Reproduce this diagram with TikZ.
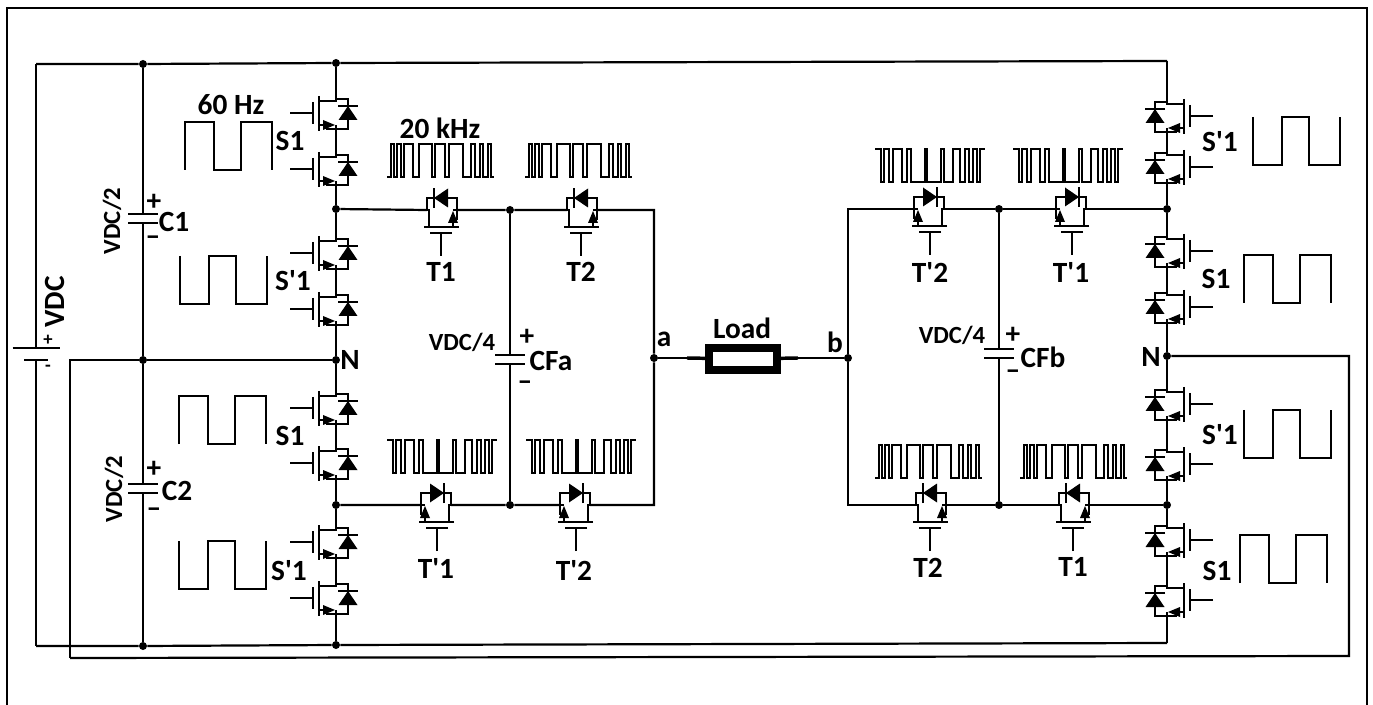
\documentclass[tikz,border=0pt]{standalone}
\usepackage{fontspec}
\setmainfont{Carlito}
\tikzset{
  flip/.style={yscale=-1},
  swR/.style={xscale=-1,yscale=-1},
  swT/.style={yscale=-1,rotate=-90},
  swM/.style={xscale=-1,yscale=-1,rotate=-90},
  wire/.style={line width=1.65pt},
  dot/.style={circle,fill=black,inner sep=0pt,minimum size=6pt},
  lab/.style={inner sep=0pt,font=\fontsize{22}{24}\selectfont\bfseries},
  smalllab/.style={inner sep=0pt,font=\fontsize{18.5}{20}\selectfont\bfseries},
  tinylab/.style={inner sep=0pt,font=\fontsize{14}{16}\selectfont\bfseries},
  pics/mosfet/.style={code={
    \coordinate (-d) at (0,-14);
    \coordinate (-s) at (0,16);
    \draw[wire] (-46,0) -- (-23,0);
    \draw[wire] (-23,-11) -- (-23,11);
    \draw[wire] (-17,-17) -- (-17,18);
    \draw[wire] (0,-14) -- (0,-12) -- (-17,-12);
    \draw[wire] (-17,12) -- (-12,12);
    \fill (-1,12) -- (-13,7) -- (-13,17) -- cycle;
    \draw[wire] (0,12) -- (0,16);
    \draw[wire] (-10,16) -- (12,16) -- (12,-14) -- (0,-14);
    \fill (12,-7) -- (21.5,7) -- (2.5,7) -- cycle;
    \draw[wire] (2,-7) -- (22,-7);
  }},
  pics/capacitor/.style={code={
    \coordinate (-p) at (0,-4.5);
    \coordinate (-n) at (0,4.5);
    \draw[wire] (-15,-4.5) -- (15,-4.5);
    \draw[wire] (-15,4.5) -- (15,4.5);
  }},
  pics/battery/.style={code={
    \coordinate (-p) at (0,-6);
    \coordinate (-n) at (0,6);
    \draw[wire] (-23.5,-6) -- (23.5,-6);
    \draw[wire] (-12,6) -- (12,6);
  }},
  pics/sqHigh/.style={code={
    \draw[wire] (0,0) |- (29,48) |- (56,0) |- (87,48) -- (87,0);
  }},
  pics/sqLow/.style={code={
    \draw[wire] (0,48) |- (29,0) |- (56,48) |- (87,0) -- (87,48);
  }},
  pics/pwmA/.style={code={
    \draw[wire] (0,33) -- (4,33) |- (7,0) |- (9.7,33) |- (13.7,0) |- (17,33) |- (26.3,0) |- (32.3,33) |- (44.7,0) |- (48,33) |- (58,0) |- (62,33) |- (76,0) |- (84,33) |- (88,0) |- (93,33) |- (96,0) |- (101,33) |- (104,0) |- (107,33);
  }},
  pics/pwmB/.style={code={
    \draw[wire] (0,0) -- (6,0) |- (9,33) |- (14,0) |- (18,33) |- (27,0) |- (32,33) |- (36,0) |- (50,33) |- (52,0) |- (66,33) |- (69,0) |- (78,33) |- (85,0) |- (90,33) |- (94,0) |- (98,33) |- (102,0) |- (105,33) -- (105,0) -- (110,0);
  }}
}

\begin{document}
\begin{tikzpicture}[x=0.75pt,y=0.75pt,yscale=-1,xscale=1]
  \useasboundingbox (0,0) rectangle (1373,705);

  %Frame
  \draw [line width=2pt] (7,705) -- (7,8) -- (1367,8) -- (1367,705);

  %Junctions
  \node [dot] (dCt) at (143,64) {};
  \node [dot] (dCn) at (143,360) {};
  \node [dot] (dCb) at (143,646) {};
  \node [dot] (dLt) at (336,63) {};
  \node [dot] (dLu) at (336,209) {};
  \node [dot] (dLn) at (336,360) {};
  \node [dot] (dLl) at (336,505) {};
  \node [dot] (dLb) at (336,645) {};
  \node [dot] (dCFat) at (510,210) {};
  \node [dot] (dCFab) at (510,505) {};
  \node [dot] (da) at (654,358) {};
  \node [dot] (db) at (848,358) {};
  \node [dot] (dCFbt) at (999,209) {};
  \node [dot] (dCFbb) at (999,505) {};
  \node [dot] (dRu) at (1167,209) {};
  \node [dot] (dRn) at (1167,356) {};
  \node [dot] (dRl) at (1167,505) {};
  \coordinate (cBatt) at (36,64);
  \coordinate (cBatb) at (36,646);
  \coordinate (cNl) at (70,360);
  \coordinate (cNb) at (70,658);
  \coordinate (cNr) at (1349,656);
  \coordinate (cNt) at (1349,356);
  \coordinate (cRt) at (1167,61);
  \coordinate (cRb) at (1167,643);
  \coordinate (caT) at (654,210);
  \coordinate (caB) at (654,505);
  \coordinate (cbT) at (848,209);
  \coordinate (cbB) at (848,505);
  \coordinate (cLoadl) at (687,358);
  \coordinate (cLoadr) at (798,358);

  %Left leg switches
  \pic [flip] (sa) at (336,113) {mosfet};
  \pic [flip] (sb) at (336,169) {mosfet};
  \pic [flip] (sc) at (336,253) {mosfet};
  \pic [flip] (sd) at (336,309) {mosfet};
  \pic [flip] (se) at (336,408) {mosfet};
  \pic [flip] (sf) at (336,463) {mosfet};
  \pic [flip] (sg) at (336,542) {mosfet};
  \pic [flip] (sh) at (336,598) {mosfet};

  %Right leg switches
  \pic [swR] (ra) at (1167,116) {mosfet};
  \pic [swR] (rb) at (1167,167) {mosfet};
  \pic [swR] (rc) at (1167,251) {mosfet};
  \pic [swR] (rd) at (1167,307) {mosfet};
  \pic [swR] (re) at (1167,404) {mosfet};
  \pic [swR] (rf) at (1167,464) {mosfet};
  \pic [swR] (rg) at (1167,540) {mosfet};
  \pic [swR] (rh) at (1167,600) {mosfet};

  %Flying capacitor switches
  \pic [swT] (tLa) at (441,210) {mosfet};
  \pic [swT] (tLb) at (581,210) {mosfet};
  \pic [swM] (tLc) at (437,505) {mosfet};
  \pic [swM] (tLd) at (576,505) {mosfet};
  \pic [swM] (tRa) at (930,209) {mosfet};
  \pic [swM] (tRb) at (1072,209) {mosfet};
  \pic [swT] (tRc) at (930,505) {mosfet};
  \pic [swT] (tRd) at (1073,505) {mosfet};

  %Capacitors and source
  \pic [flip] (cOne) at (143,218.5) {capacitor};
  \pic [flip] (cTwo) at (143,488.5) {capacitor};
  \pic [flip] (cFa) at (510,359.5) {capacitor};
  \pic [flip] (cFb) at (999,353.5) {capacitor};
  \pic [flip] (bat) at (36,354) {battery};

  %Straight Lines
  \draw [wire] (sa-s) -- (sb-d) (sc-s) -- (sd-d) (se-s) -- (sf-d) (sg-s) -- (sh-d);
  \draw [wire] (ra-s) -- (rb-d) (rc-s) -- (rd-d) (re-s) -- (rf-d) (rg-s) -- (rh-d);
  \draw [wire] (dLt) -- (sa-d) (sb-s) -- (dLu) -- (sc-d) (sd-s) -- (dLn) -- (se-d) (sf-s) -- (dLl) -- (sg-d) (sh-s) -- (dLb);
  \draw [wire] (cRt) -- (ra-d) (rb-s) -- (dRu) -- (rc-d) (rd-s) -- (dRn) -- (re-d) (rf-s) -- (dRl) -- (rg-d) (rh-s) -- (cRb);
  \draw [wire] (cBatt) -- (dCt) -- (dLt) -- (cRt);
  \draw [wire] (cBatb) -- (dCb) -- (dLb) -- (cRb);
  \draw [wire] (bat-p) -- (cBatt) (bat-n) -- (cBatb);
  \draw [wire] (dCt) -- (cOne-p) (cOne-n) -- (dCn) -- (cTwo-p) (cTwo-n) -- (dCb);
  \draw [wire] (cNb) -- (cNl) -- (dCn) -- (dLn);
  \draw [wire] (cNb) -- (cNr) -- (cNt) -- (dRn);
  %Left bridge
  \draw [wire] (dLu) -- (tLa-d) (tLa-s) -- (dCFat) -- (tLb-d) (tLb-s) -- (caT) -- (da) -- (caB) -- (tLd-d) (tLd-s) -- (dCFab) -- (tLc-d) (tLc-s) -- (dLl);
  \draw [wire] (dCFat) -- (cFa-p) (cFa-n) -- (dCFab);
  %Right bridge
  \draw [wire] (dRu) -- (tRb-d) (tRb-s) -- (dCFbt) -- (tRa-d) (tRa-s) -- (cbT) -- (db) -- (cbB) -- (tRc-d) (tRc-s) -- (dCFbb) -- (tRd-d) (tRd-s) -- (dRl);
  \draw [wire] (dCFbt) -- (cFb-p) (cFb-n) -- (dCFbb);
  %Load
  \node [draw,line width=6pt,minimum width=51pt,minimum height=16.5pt,inner sep=0pt] (load) at (743,359) {};
  \draw [wire] (da) -- (cLoadl) (cLoadr) -- (db);
  \draw [line width=2.6pt] (cLoadl) -- (load) (load) -- (cLoadr);

  %Square waves
  \pic [flip] at (185,122) {sqLow};
  \pic [flip] at (180,256) {sqHigh};
  \pic [flip] at (179,396) {sqLow};
  \pic [flip] at (179,541) {sqHigh};
  \pic [flip] at (1253,117) {sqHigh};
  \pic [flip] at (1244,255) {sqLow};
  \pic [flip] at (1244,410) {sqHigh};
  \pic [flip] at (1240,535) {sqLow};

  %Pulse trains
  \pic [flip] at (387,144) {pwmA};
  \pic [flip] at (525,144) {pwmA};
  \pic [flip] at (875,445) {pwmA};
  \pic [flip] at (1020,445) {pwmA};
  \pic [flip] at (387,440) {pwmB};
  \pic [flip] at (526,440) {pwmB};
  \pic [flip] at (875,149) {pwmB};
  \pic [flip] at (1013,149) {pwmB};

  % Text Node
  \draw (231,105) node (labSixty) [lab] {60 Hz};
  \draw (440,128) node (labTwenty) [lab] {20 kHz};
  \draw (290,141) node (labSa) [lab] {S1};
  \draw (293,281) node (labSb) [lab] {S\textquotesingle 1};
  \draw (290,436) node (labSc) [lab] {S1};
  \draw (289,571) node (labSd) [lab] {S\textquotesingle 1};
  \draw (1220,142) node (labRa) [lab] {S\textquotesingle 1};
  \draw (1216,279) node (labRb) [lab] {S1};
  \draw (1220,435) node (labRc) [lab] {S\textquotesingle 1};
  \draw (1217,571) node (labRd) [lab] {S1};
  \draw (441,272) node (labTa) [lab] {T1};
  \draw (581,272) node (labTb) [lab] {T2};
  \draw (436,568) node (labTc) [lab] {T\textquotesingle 1};
  \draw (574,570) node (labTd) [lab] {T\textquotesingle 2};
  \draw (930,272) node (labTe) [lab] {T\textquotesingle 2};
  \draw (1071,272) node (labTf) [lab] {T\textquotesingle 1};
  \draw (928,568) node (labTg) [lab] {T2};
  \draw (1073,567) node (labTh) [lab] {T1};
  \draw (350,360) node (labNl) [lab] {N};
  \draw (1151,357) node (labNr) [lab] {N};
  \draw (664,339) node (laba) [lab] {a};
  \draw (835,342) node (labb) [lab] {b};
  \draw (742,328) node (labLoad) [lab] {Load};
  \draw (174,222) node (labCa) [lab] {C1};
  \draw (177,491) node (labCb) [lab] {C2};
  \draw (551,361) node (labCFa) [lab] {CFa};
  \draw (1043,357) node (labCFb) [lab] {CFb};
  \draw (154,202) node (plusCa) [lab] {+};
  \draw (153,241) node (minusCa) [lab] {–};
  \draw (154,469) node (plusCb) [lab] {+};
  \draw (154,513) node (minusCb) [lab] {–};
  \draw (527,337) node (plusCFa) [lab] {+};
  \draw (525,386) node (minusCFa) [lab] {–};
  \draw (1013,335) node (plusCFb) [lab] {+};
  \draw (1013,375) node (minusCFb) [lab] {–};
  \draw (48,340) node (plusBat) [tinylab] {+};
  \draw (48,368) node (minusBat) [tinylab] {-};
  \draw (112,221) node (labVa) [smalllab,rotate=90] {VDC/2};
  \draw (114,489) node (labVb) [smalllab,rotate=90] {VDC/2};
  \draw (462,342) node (labVc) [smalllab] {VDC/4};
  \draw (952,335) node (labVd) [smalllab] {VDC/4};
  \draw (55,302) node (labVDC) [lab,rotate=90] {VDC};
\end{tikzpicture}
\end{document}
